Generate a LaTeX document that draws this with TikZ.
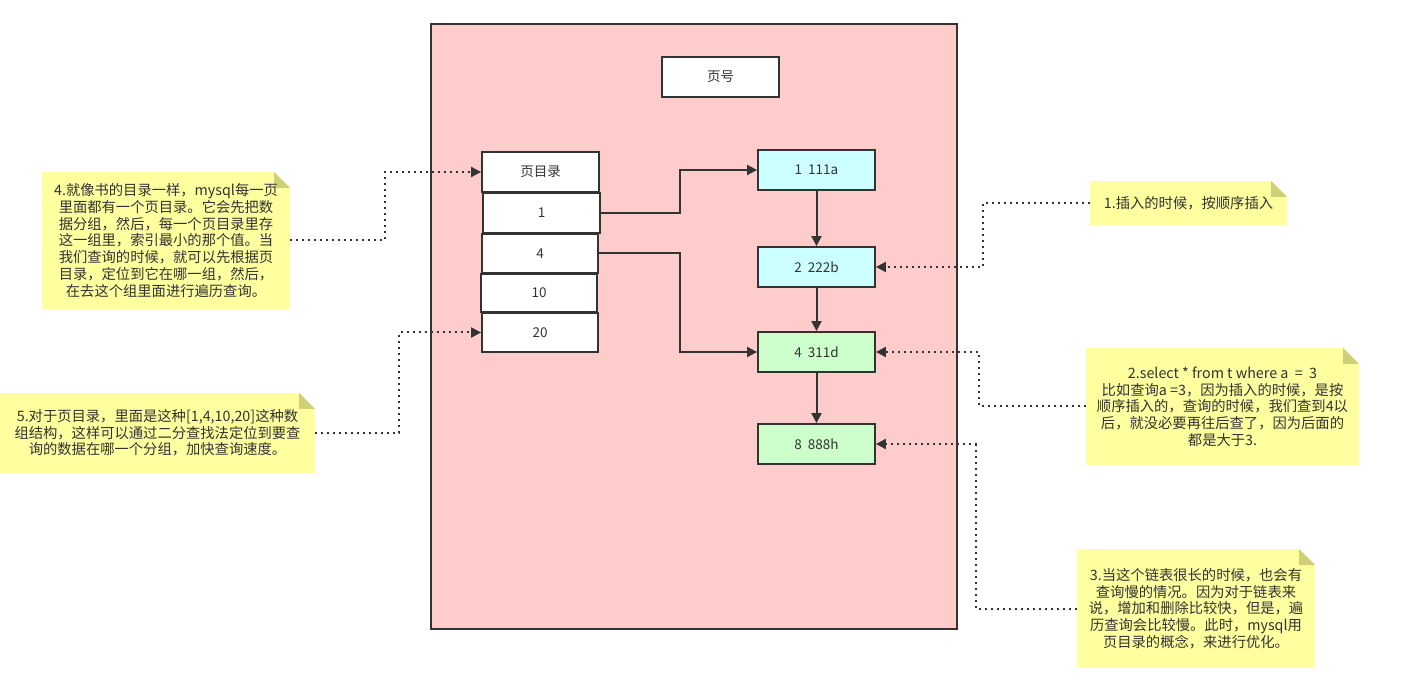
\documentclass[tikz,border=0pt]{standalone}
\usepackage{fontspec}
\setmainfont{Noto Sans CJK SC}
\usepackage{xcolor}
\usetikzlibrary{arrows.meta}

\definecolor{ink}{HTML}{333333}
\definecolor{pagepink}{HTML}{FFCCCC}
\definecolor{rowcyan}{HTML}{CCFFFF}
\definecolor{rowgreen}{HTML}{CCFFCC}
\definecolor{memofill}{HTML}{FFFFA0}
\definecolor{memofold}{HTML}{CFCF78}

\tikzset{
  box/.style={draw=ink,line width=1.8pt,text=ink,fill=white,minimum width=117pt,minimum height=40pt,inner sep=0pt,font=\fontsize{13.5}{15}\selectfont},
  memo/.style={fill=memofill,text=ink,align=center,inner sep=0pt,font=\fontsize{14.3}{16.7}\selectfont,
    path picture={
      \fill[white] ([xshift=-16pt]path picture bounding box.north east) -- (path picture bounding box.north east) -- ([yshift=-16pt]path picture bounding box.north east) -- cycle;
      \fill[memofold] ([xshift=-16pt]path picture bounding box.north east) -- ([xshift=-16pt,yshift=-16pt]path picture bounding box.north east) -- ([yshift=-16pt]path picture bounding box.north east) -- cycle;
    }},
  link/.style={draw=ink,line width=2pt,-{Triangle[length=10pt,width=10pt]}},
  hint/.style={link,dash pattern=on 2pt off 4pt}
}

\begin{document}
\begin{tikzpicture}[x=1pt,y=-1pt]
\useasboundingbox (0,0) rectangle (1403,700);

% the page
\draw[draw=ink,line width=1.8pt,fill=pagepink] (431,24) rectangle (957,629);
\node[box] (pageno) at (720.5,77) {页号};

% page directory
\node[box] (dir) at (540.5,172) {页目录};
\node[box] (k1) at (541.5,213) {1};
\node[box,minimum width=116pt,minimum height=39pt] (k4) at (540,253.5) {4};
\node[box,minimum width=116pt,minimum height=38pt] (k10) at (539,293) {10};
\node[box,minimum width=116pt,minimum height=39pt] (k20) at (540,332.5) {20};

% records
\node[box,fill=rowcyan] (r1) at (816.5,170) {1\ \ 111a};
\node[box,fill=rowcyan] (r2) at (816.5,267) {2\ \ 222b};
\node[box,fill=rowgreen] (r4) at (816.5,352) {4\ \ 311d};
\node[box,fill=rowgreen] (r8) at (816.5,444) {8\ \ 888h};

\draw[link] (r1.south) -- (r2.north);
\draw[link] (r2.south) -- (r4.north);
\draw[link] (r4.south) -- (r8.north);
\draw[link] (k1.east) -- ++(79,0) |- (r1.west);
\draw[link] (k4.east) -- ++(81,0) |- (r4.west);

% notes
\node[memo,minimum width=248pt,minimum height=137pt] (n4) at (166,240.5) {4.就像书的目录一样，mysql每一页\\里面都有一个页目录。它会先把数\\据分组，然后，每一个页目录里存\\这一组里，索引最小的那个值。当\\我们查询的时候，就可以先根据页\\目录，定位到它在哪一组，然后，\\在去这个组里面进行遍历查询。};
\node[memo,minimum width=315pt,minimum height=80pt] (n5) at (157.5,433) {5.对于页目录，里面是这种[1,4,10,20]这种数\\组结构，这样可以通过二分查找法定位到要查\\询的数据在哪一个分组，加快查询速度。};
\node[memo,minimum width=197pt,minimum height=44pt] (n1) at (1188.5,203) {1.插入的时候，按顺序插入};
\node[memo,minimum width=273pt,minimum height=117pt] (n2) at (1222.5,406.5) {2.select * from t where a \ = \ 3\\比如查询a =3，因为插入的时候，是按\\顺序插入的，查询的时候，我们查到4以\\后，就没必要再往后查了，因为后面的\\都是大于3.};
\node[memo,minimum width=238pt,minimum height=119pt] (n3) at (1196,608.5) {3.当这个链表很长的时候，也会有\\查询慢的情况。因为对于链表来\\说，增加和删除比较快，但是，遍\\历查询会比较慢。此时，mysql用\\页目录的概念，来进行优化。};

\draw[hint] (n4.east) -- ++(95,0) |- (dir.west);
\draw[hint] (n5.east) -- ++(84,0) |- (k20.west);
\draw[hint] (n1.west) -- ++(-107,0) |- (r2.east);
\draw[hint] (n2.west) -- ++(-107,0) |- (r4.east);
\draw[hint] (n3.west) -- ++(-101,0) |- (r8.east);

\end{tikzpicture}
\end{document}
